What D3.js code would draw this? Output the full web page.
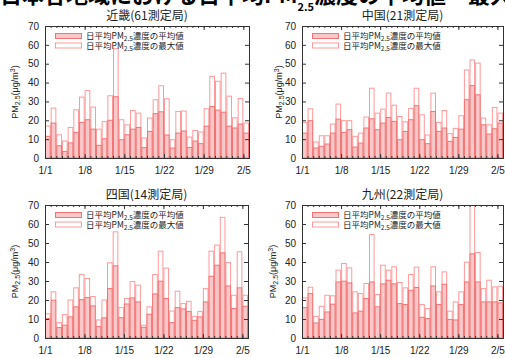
<!DOCTYPE html>
<html><head><meta charset="utf-8">
<script src="https://cdn.jsdelivr.net/npm/d3@7"></script>
<style>
body{margin:0;background:#fff;}
svg{display:block;font-family:"Liberation Sans","Noto Sans CJK JP",sans-serif;}
.jp{font-family:"Noto Sans CJK JP",sans-serif;}
</style></head>
<body><svg id="c" width="505" height="358"></svg>
<script>
const tickLabels = ["1/1","1/8","1/15","1/22","1/29","2/5"];
const tickDays = [0,7,14,21,28,35];
const yTicks = [0,10,20,30,40,50,60,70];

const kinkiMean = [11.5,18.5,6.5,3.5,8,13.6,18.9,20.3,15.3,6.7,10.2,20,32.5,9.7,12.3,15.3,16.2,5.5,14.1,23.5,24.5,12.2,5.3,13.2,14.3,5.6,9,7.6,16.9,27.3,25.4,24.3,16.9,15.9,18,13.2];
const kinkiMax  = [17,26.5,12.3,9,16.2,25.6,32.3,35.8,27,15.3,19.4,33,58,20.3,17.6,25.2,23.8,10.6,21.2,30.9,38.3,31.4,9.7,24.7,24.9,11.1,14.6,13.8,26.1,43.2,40.7,45,32.8,21.3,31.6,18.5];
const chugokuMean = [13.2,19.8,5.3,6.2,7.4,13.2,20.6,13.6,15,5.8,7.9,15.9,20.8,15,18.5,21.5,19.4,9.7,14.1,20.3,27.7,9.7,7.6,24.7,14.1,15.9,8.8,10.9,15.3,30.9,38.4,33.5,17.6,12.7,15.5,18.5];
const chugokuMax  = [18.9,26.1,8.5,11.8,11.8,18,28.6,19.8,19.8,11.5,13.2,21.7,37,23.8,25.9,34.4,28,22,19.2,26.3,37,22.9,12.2,34.4,18.9,25.2,12.9,15.7,22.4,46.7,52,50.3,21.2,17.6,26.8,23.8];
const shikokuMean = [10.2,19.9,5.5,6.7,11.1,16.4,20.2,21.3,16.9,6,10.6,26,38,10.7,17.9,21.1,19,5.6,12.5,23.2,29.9,20.8,8.1,16,15.3,13.9,9.3,11.1,19,32.5,38.3,44.8,27.4,15.5,26.4,16.7];
const shikokuMax  = [12.7,24.3,8.1,12.3,20,26.4,33.4,31.3,21.8,9.5,20,39.6,55.9,16,20.8,29.7,27.8,6.7,16.4,33.4,45.7,36.8,14.2,24.6,18.1,19.3,11.4,13.9,26,45.7,48.9,63.5,39.7,22.5,45.4,22.5];
const kyushuMean = [16,23.4,7.9,9.8,13.7,17.8,29.5,29.9,29,13.2,14.1,20.8,29.5,16.4,28.5,30.4,28.5,18.1,17.6,25.1,26.6,10.9,10.2,27.4,17.6,28.3,9.7,9.5,17.6,29.5,44.3,29.5,19,19,19,18.5];
const kyushuMax  = [21.1,26.7,11.4,16.7,22.5,22.2,35.7,39.2,36.9,24.3,23.4,28.7,54.5,22.9,38.3,35.7,37.5,29.2,26.4,33.4,37.3,17.6,15.5,37.5,24.3,34.8,14.1,19,24.3,39.9,72,45,26,30.4,26.9,27.3];

const regionTitles = ["近畿(61測定局)","中国(21測定局)","四国(14測定局)","九州(22測定局)"];

const panels = [
  {title:regionTitles[0], mean:kinkiMean, max:kinkiMax, x0:45, x1:249, y0:26, y1:158, ylab:15},
  {title:regionTitles[1], mean:chugokuMean, max:chugokuMax, x0:302, x1:503, y0:26, y1:158, ylab:279},
  {title:regionTitles[2], mean:shikokuMean, max:shikokuMax, x0:45, x1:248, y0:205, y1:338, ylab:15},
  {title:regionTitles[3], mean:kyushuMean, max:kyushuMax, x0:302, x1:503, y0:205, y1:338, ylab:273}
];

const svg = d3.select("#c");
const maxStroke = "#ff9a9a", meanFill = "#fac8c8", meanStroke = "#f27474", axisCol = "#333";

// main title (cut off at top)
const t = svg.append("text").attr("class","jp").attr("x",0).attr("y",3)
  .attr("font-size",22).attr("font-weight","bold").attr("fill","#000");
t.append("tspan").text("日本各地域における日平均PM");
t.append("tspan").attr("font-size",11).attr("dy",8).text("2.5");
t.append("tspan").attr("dy",-8).text("濃度の平均値・最大値");

panels.forEach((p,pi)=>{
  const g = svg.append("g");
  const x = d3.scaleLinear().domain([0,36]).range([p.x0,p.x1]);
  const y = d3.scaleLinear().domain([0,70]).range([p.y1,p.y0]);
  const clipId = "clip"+pi;
  g.append("clipPath").attr("id",clipId).append("rect")
    .attr("x",p.x0).attr("y",p.y0).attr("width",p.x1-p.x0).attr("height",p.y1-p.y0);
  const bars = g.append("g").attr("clip-path",`url(#${clipId})`);
  bars.selectAll("rect.mx").data(p.max).join("rect").attr("class","mx")
    .attr("x",(d,i)=>x(i)+0.5).attr("width",(d,i)=>x(i+1)-x(i)-1)
    .attr("y",d=>y(d)).attr("height",d=>y(0)-y(d))
    .attr("fill","#fff").attr("stroke",maxStroke).attr("stroke-width",1);
  bars.selectAll("rect.mn").data(p.mean).join("rect").attr("class","mn")
    .attr("x",(d,i)=>x(i)+0.5).attr("width",(d,i)=>x(i+1)-x(i)-1)
    .attr("y",d=>y(d)).attr("height",d=>y(0)-y(d))
    .attr("fill",meanFill).attr("stroke",meanStroke).attr("stroke-width",1);

  // axes
  const yl = d3.axisLeft(y).tickValues(yTicks).tickSize(-4).tickPadding(6);
  const yr = d3.axisRight(y).tickValues(yTicks).tickSize(-4).tickFormat("");
  const xb = d3.axisBottom(x).tickValues(tickDays).tickSize(-4).tickPadding(9).tickFormat((d,i)=>tickLabels[i]);
  const xt = d3.axisTop(x).tickValues(d3.range(0,37)).tickSize(-2).tickFormat("");
  const xt2 = d3.axisTop(x).tickValues(tickDays).tickSize(-4).tickFormat("");
  const xb2 = d3.axisBottom(x).tickValues(d3.range(0,37)).tickSize(-2).tickFormat("");
  const style = sel=>{sel.select(".domain").attr("stroke",axisCol);sel.selectAll("line").attr("stroke",axisCol);
    sel.selectAll("text").attr("fill","#222").attr("font-size",10);};
  g.append("g").attr("transform",`translate(${p.x0},0)`).call(yl).call(style);
  g.append("g").attr("transform",`translate(${p.x1},0)`).call(yr).call(style);
  g.append("g").attr("transform",`translate(0,${p.y1})`).call(xb).call(style);
  g.append("g").attr("transform",`translate(0,${p.y1})`).call(xb2).call(style);
  g.append("g").attr("transform",`translate(0,${p.y0})`).call(xt).call(style);
  g.append("g").attr("transform",`translate(0,${p.y0})`).call(xt2).call(style);

  // panel title
  g.append("text").attr("class","jp").attr("x",(p.x0+p.x1)/2).attr("y",p.y0-6)
    .attr("text-anchor","middle").attr("font-size",12).attr("fill","#222").text(p.title);

  // y label
  const yc = (p.y0+p.y1)/2;
  const lab = g.append("text").attr("transform",`translate(${p.ylab+3},${yc}) rotate(-90)`)
    .attr("text-anchor","middle").attr("font-size",9).attr("fill","#222");
  lab.append("tspan").text("PM");
  lab.append("tspan").attr("font-size",7).attr("dy",2).text("2.5");
  lab.append("tspan").attr("dy",-2).text("(μg/m");
  lab.append("tspan").attr("font-size",7).attr("dy",-3).text("3");
  lab.append("tspan").attr("dy",3).text(")");

  // legend
  const lx = p.x0+10, ly = p.y0+7;
  const legTexts = [["日平均PM","2.5","濃度の平均値"],["日平均PM","2.5","濃度の最大値"]];
  legTexts.forEach((lt,li)=>{
    const yy = ly + li*9.5;
    g.append("rect").attr("x",lx+0.5).attr("y",yy+0.5).attr("width",26).attr("height",5)
      .attr("fill",li===0?meanFill:"#fff").attr("stroke",li===0?meanStroke:maxStroke);
    const tx = g.append("text").attr("class","jp").attr("x",lx+31).attr("y",yy+6)
      .attr("font-size",8.5).attr("fill","#222");
    tx.append("tspan").text(lt[0]);
    tx.append("tspan").attr("font-size",6.5).attr("dy",2).text(lt[1]);
    tx.append("tspan").attr("dy",-2).text(lt[2]);
  });
});
</script></body></html>
